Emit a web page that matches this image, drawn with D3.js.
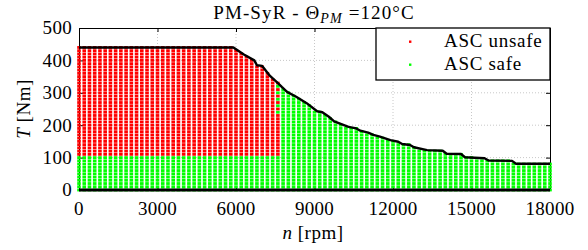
<!DOCTYPE html>
<html>
<head>
<meta charset="utf-8">
<script src="https://cdn.jsdelivr.net/npm/d3@7"></script>
<style>
    html, body { margin: 0; padding: 0; background: #fff; }
    svg text { font-family: "Liberation Serif", "Times New Roman", serif; fill: #000; }
</style>
</head>
<body>
<div id="chart"></div>
<script>
// Torque envelope (black line)
const envSpeed = [0, 5900, 6300, 6700, 6800, 7000, 7300, 7550, 7750, 7950, 8300, 8700, 9100, 9300, 9550, 9750,
    10300, 10600, 10750, 11050, 11250, 11500, 11900, 12200, 12350, 12650, 12800, 13300, 13900, 14050,
    14600, 14750, 15500, 15650, 16550, 16700, 18000];
const envTorque = [440, 440, 418, 400, 385, 383, 352, 334, 318, 303, 288, 268, 243, 240, 226, 212,
    195, 190, 183, 177, 170, 165, 154, 149, 142, 139, 132, 123, 121, 112,
    111, 101, 98, 91, 90, 81, 81];

// Operating-point mesh
const speedStep = 200;
const torqueStep = 10;

// ASC unsafe region: speed limit, min torque, and the mixed column
const unsafeMaxSpeed = 7400;
const unsafeMinTorque = 110;
const mixedSpeed = 7600;
const mixedSafeTorque = [320, 300, 280, 260, 240];

const xTicks = [0, 3000, 6000, 9000, 12000, 15000, 18000];
const yTicks = [0, 100, 200, 300, 400, 500];

const width = 588, height = 250;
const margin = { top: 28, right: 38, bottom: 60, left: 79 };

const svg = d3.select('#chart')
    .append('svg')
    .attr('width', width)
    .attr('height', height);

const x = d3.scaleLinear().domain([0, 18000]).range([margin.left, width - margin.right]);
const y = d3.scaleLinear().domain([0, 500]).range([height - margin.bottom, margin.top]);

// envelope lookup for each mesh column
const envAt = d3.scaleLinear().domain(envSpeed).range(envTorque);

const points = [];
d3.range(0, 18000 + 1, speedStep).forEach(n => {
    const tMax = envAt(n);
    d3.range(0, 500, torqueStep).forEach(t => {
        if (t > tMax + 0.5) return;
        let unsafe = false;
        if (t >= unsafeMinTorque && n <= unsafeMaxSpeed) unsafe = true;
        if (n === mixedSpeed && t >= unsafeMinTorque && !mixedSafeTorque.includes(t)) unsafe = true;
        points.push({ n: n, t: t, unsafe: unsafe });
    });
});

// grid
svg.append('g')
    .selectAll('line')
    .data(xTicks.slice(1, -1))
    .enter()
    .append('line')
    .attr('x1', d => x(d)).attr('x2', d => x(d))
    .attr('y1', y(500)).attr('y2', y(0))
    .attr('stroke', '#c8c8c8')
    .attr('stroke-dasharray', '1,2');

svg.append('g')
    .selectAll('line')
    .data(yTicks.slice(1, -1))
    .enter()
    .append('line')
    .attr('x1', x(0)).attr('x2', x(18000))
    .attr('y1', d => y(d)).attr('y2', d => y(d))
    .attr('stroke', '#c8c8c8')
    .attr('stroke-dasharray', '1,2');

// axes frame (inward ticks)
const xAxisTop = d3.axisTop(x).tickValues(xTicks).tickSizeInner(-4).tickSizeOuter(0).tickFormat('');
const yAxisRight = d3.axisRight(y).tickValues(yTicks).tickSizeInner(-4).tickSizeOuter(0).tickFormat('');
const xAxisBottom = d3.axisBottom(x).tickValues(xTicks).tickSizeInner(-4).tickSizeOuter(0).tickFormat('');
const yAxisLeft = d3.axisLeft(y).tickValues(yTicks).tickSizeInner(-4).tickSizeOuter(0).tickFormat('');

[[xAxisTop, `translate(0,${y(500)})`], [yAxisRight, `translate(${x(18000)},0)`],
 [xAxisBottom, `translate(0,${y(0)})`], [yAxisLeft, `translate(${x(0)},0)`]].forEach(([ax, tr]) => {
    const g = svg.append('g').attr('transform', tr).call(ax);
    g.selectAll('line, path').attr('stroke', '#000').attr('stroke-width', 1);
});

// operating points
const dotW = 3.6, dotH = 2.8;
svg.append('g')
    .selectAll('rect')
    .data(points)
    .enter()
    .append('rect')
    .attr('x', d => x(d.n) - dotW / 2)
    .attr('y', d => y(d.t) - dotH / 2)
    .attr('width', dotW)
    .attr('height', dotH)
    .attr('fill', d => d.unsafe ? '#ff0000' : '#00ff00');

// torque envelope
const line = d3.line().x((d, i) => x(envSpeed[i])).y(d => y(d));
svg.append('path')
    .datum(envTorque)
    .attr('d', line)
    .attr('fill', 'none')
    .attr('stroke', '#000')
    .attr('stroke-width', 2.4)
    .attr('stroke-linejoin', 'round');

svg.append('line')
    .attr('x1', x(0)).attr('x2', x(18000))
    .attr('y1', y(0)).attr('y2', y(0))
    .attr('stroke', '#000')
    .attr('stroke-width', 3);

// tick labels
svg.append('g')
    .selectAll('text')
    .data(xTicks)
    .enter()
    .append('text')
    .attr('x', d => x(d))
    .attr('y', 215)
    .attr('text-anchor', 'middle')
    .style('font-size', '19px')
    .style('letter-spacing', '0.3px')
    .text(d => d);

svg.append('g')
    .selectAll('text')
    .data(yTicks)
    .enter()
    .append('text')
    .attr('x', 72)
    .attr('y', d => y(d))
    .attr('dy', '0.34em')
    .attr('text-anchor', 'end')
    .style('font-size', '19px')
    .style('letter-spacing', '0.3px')
    .text(d => d);

// axis labels
const xLabel = svg.append('text')
    .attr('x', 313)
    .attr('y', 239)
    .attr('text-anchor', 'middle')
    .style('font-size', '19px')
    .style('letter-spacing', '0.5px');
xLabel.append('tspan').style('font-style', 'italic').text('n');
xLabel.append('tspan').text(' [rpm]');

const yLabel = svg.append('text')
    .attr('transform', 'translate(30,109) rotate(-90)')
    .attr('text-anchor', 'middle')
    .style('font-size', '19px')
    .style('letter-spacing', '0.5px');
yLabel.append('tspan').style('font-style', 'italic').text('T');
yLabel.append('tspan').text(' [Nm]');

// title
const title = svg.append('text')
    .attr('x', 314)
    .attr('y', 19)
    .attr('text-anchor', 'middle')
    .style('font-size', '19px')
    .style('letter-spacing', '1.1px');
title.append('tspan').text('PM-SyR - Θ');
title.append('tspan').attr('dy', 4).style('font-size', '14px').style('font-style', 'italic').text('PM');
title.append('tspan').attr('dy', -4).text(' =120°C');

// legend
const legendItems = [
    { label: 'ASC unsafe', color: '#ff0000' },
    { label: 'ASC safe', color: '#00ff00' }
];
const legend = svg.append('g');
legend.append('rect')
    .attr('x', 376).attr('y', y(500))
    .attr('width', x(18000) - 376).attr('height', 52)
    .attr('fill', '#fff')
    .attr('stroke', '#000')
    .attr('stroke-width', 1.3);

legend.selectAll('.item')
    .data(legendItems)
    .enter()
    .append('g')
    .attr('class', 'item')
    .each(function(d, i) {
        const g = d3.select(this);
        g.append('rect')
            .attr('x', 409).attr('y', 40.5 + i * 23)
            .attr('width', 2.4).attr('height', 2.4)
            .attr('fill', d.color);
        g.append('text')
            .attr('x', 444).attr('y', 47 + i * 23)
            .style('font-size', '19px')
            .style('letter-spacing', '0.7px')
            .text(d.label);
    });
</script>
</body>
</html>
